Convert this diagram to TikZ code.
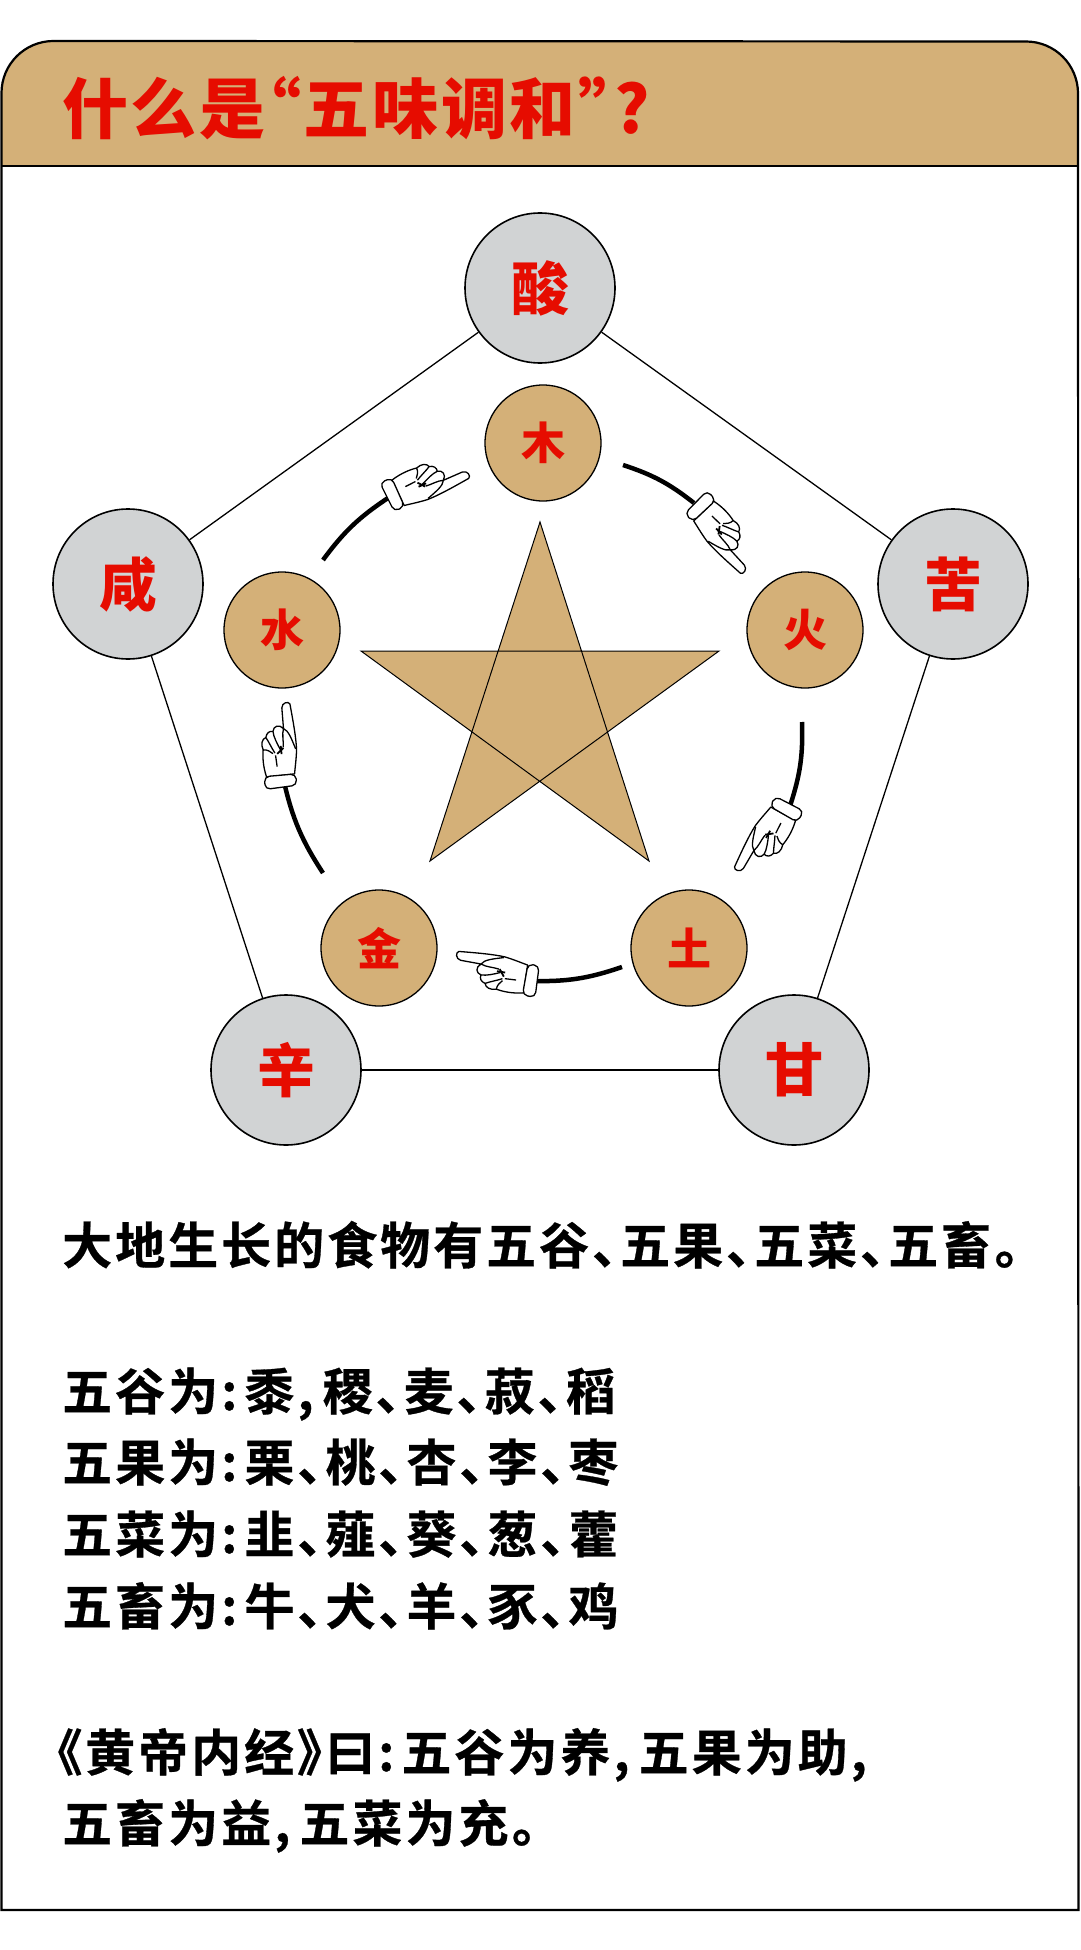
\documentclass[tikz,border=0pt]{standalone}
\usepackage{fontspec}
\newfontfamily\cjkblack[RawFeature=+palt]{Noto Sans CJK SC Black}
\newfontfamily\cjkbody[RawFeature=+palt,LetterSpace=6,FakeBold=0.6]{Noto Sans CJK SC Bold}
\definecolor{tan}{HTML}{D4B078}
\definecolor{stone}{HTML}{D1D3D4}
\definecolor{flame}{HTML}{E60C00}
\newcommand{\colonmark}{:\kern7pt}
\newcommand{\commamark}{,\kern9pt}
\tikzset{
  flavour/.style={circle,draw=black,line width=1.6pt,fill=stone,minimum size=150pt,inner sep=0pt,
    text=flame,font=\cjkblack\fontsize{58}{58}\selectfont},
  element/.style={circle,draw=black,line width=1.3pt,fill=tan,minimum size=116pt,inner sep=0pt,
    text=flame,font=\cjkblack\fontsize{44}{44}\selectfont},
  edge/.style={draw=black,line width=1.3pt},
  cycle line/.style={draw=black,line width=4.5pt,bend left=10},
  body text/.style={anchor=base west,inner sep=0pt,font=\cjkbody\fontsize{50}{50}\selectfont},
  pics/pointer/.style={code={
    \begin{scope}[shift={(-272,-150)},draw=black,fill=white,line width=1.3pt,line join=round]
      % hand with extended index finger
      \path[draw,fill] (60,66) .. controls (110,70) and (160,74) .. (195,82)
        .. controls (222,90) and (245,100) .. (262,106) -- (250,188)
        .. controls (215,190) and (190,184) .. (170,177)
        .. controls (152,180) and (138,172) .. (137,160)
        .. controls (125,155) and (120,145) .. (125,135)
        .. controls (110,130) and (108,112) .. (125,103)
        -- (65,92) .. controls (50,88) and (50,68) .. (60,66) -- cycle;
      % curled fingers and creases
      \draw (125,103) .. controls (140,112) and (160,112) .. (178,118);
      \draw (125,135) .. controls (140,138) and (165,132) .. (182,128);
      \draw (137,160) .. controls (150,155) and (170,152) .. (188,146);
      \draw (170,177) .. controls (172,165) and (180,158) .. (188,152);
      \draw (125,103) .. controls (135,90) and (160,88) .. (192,84);
      \draw (195,146) -- (228,150);
      \draw[line width=1.8pt] (180,118) -- (192,140);
      \draw[line width=1.8pt] (172,124) -- (196,128);
      % cuff
      \path[draw,fill,rounded corners=5pt] (263,103) -- (296,108) -- (284,201) -- (247,194) -- cycle;
    \end{scope}
  }}
}
\begin{document}
\begin{tikzpicture}[x=1pt,y=-1pt]
\useasboundingbox (0,0) rectangle (1080,1950);
\fill[white] (0,0) rectangle (1080,1950);

% page frame and title band
\path[fill=tan] (1.5,166) -- (1.5,93) arc[start angle=180,end angle=90,radius=52pt] -- (1026,41.5)
  arc[start angle=90,end angle=0,radius=52pt] -- (1078.5,166) -- cycle;
\draw[line width=1.8pt] (1.5,166) -- (1078.5,166);
\draw[line width=2.2pt] (1.5,1910) -- (1.5,93) arc[start angle=180,end angle=90,radius=52pt] -- (1026,41.5)
  arc[start angle=90,end angle=0,radius=52pt] -- (1078.5,1910) -- cycle;
\node[anchor=base west,inner sep=0pt,text=flame,font=\cjkblack\fontsize{66}{66}\selectfont\addfontfeatures{LetterSpace=4}] (title) at (62,134) {什么是“五味调和”?};

% outer ring of flavours
\node[flavour] (suan) at (540,288) {酸};
\node[flavour] (ku) at (953,584) {苦};
\node[flavour] (gan) at (794,1070) {甘};
\node[flavour] (xin) at (286,1070) {辛};
\node[flavour] (xian) at (128,584) {咸};
\draw[edge] (suan) -- (ku);
\draw[edge] (ku) -- (gan);
\draw[edge] (gan) -- (xin);
\draw[edge] (xin) -- (xian);
\draw[edge] (xian) -- (suan);

% inner ring of elements
\node[element] (mu) at (543,443) {木};
\node[element] (huo) at (805,630) {火};
\node[element] (tu) at (689,948) {土};
\node[element] (jin) at (379,948) {金};
\node[element] (shui) at (282,630) {水};

% central star
\path[fill=tan,draw=black,line width=1pt,line join=miter,nonzero rule]
  (540,522) -- (649,861) -- (361,651) -- (719,651) -- (430,861) -- cycle;

% generating cycle: arcs ending at pointing hands
\coordinate (a1) at (323,560); \coordinate (b1) at (388,498);
\coordinate (a2) at (623,465); \coordinate (b2) at (694,503);
\coordinate (a3) at (802,722); \coordinate (b3) at (790,806);
\coordinate (a4) at (622,967); \coordinate (b4) at (532,981);
\coordinate (a5) at (323,873); \coordinate (b5) at (284,782);
\draw[cycle line] (a1) to (b1);
\draw[cycle line] (a2) to (b2);
\draw[cycle line] (a3) to (b3);
\draw[cycle line] (a4) to (b4);
\draw[cycle line] (a5) to (b5);
\pic[rotate=214,scale=0.34] at (393,495) {pointer};
\pic[rotate=143,scale=0.34] at (700,507) {pointer};
\pic[rotate=70,scale=0.34] at (786,809) {pointer};
\pic[rotate=0,scale=0.34] at (531,980) {pointer};
\pic[rotate=-75,scale=0.34] at (281,781) {pointer};

% body text
\node[body text] (l1) at (62,1264) {大地生长的食物有五谷、五果、五菜、五畜。};
\node[body text] (l2) at (62,1410) {五谷为\colonmark 黍\commamark 稷、麦、菽、稻};
\node[body text] (l3) at (62,1481) {五果为\colonmark 栗、桃、杏、李、枣};
\node[body text] (l4) at (62,1553) {五菜为\colonmark 韭、薤、葵、葱、藿};
\node[body text] (l5) at (62,1625) {五畜为\colonmark 牛、犬、羊、豕、鸡};
\node[body text] (l6) at (57,1771) {《黄帝内经》曰\colonmark 五谷为养\commamark 五果为助,};
\node[body text] (l7) at (62,1842) {五畜为益\commamark 五菜为充。};
\end{tikzpicture}
\end{document}
